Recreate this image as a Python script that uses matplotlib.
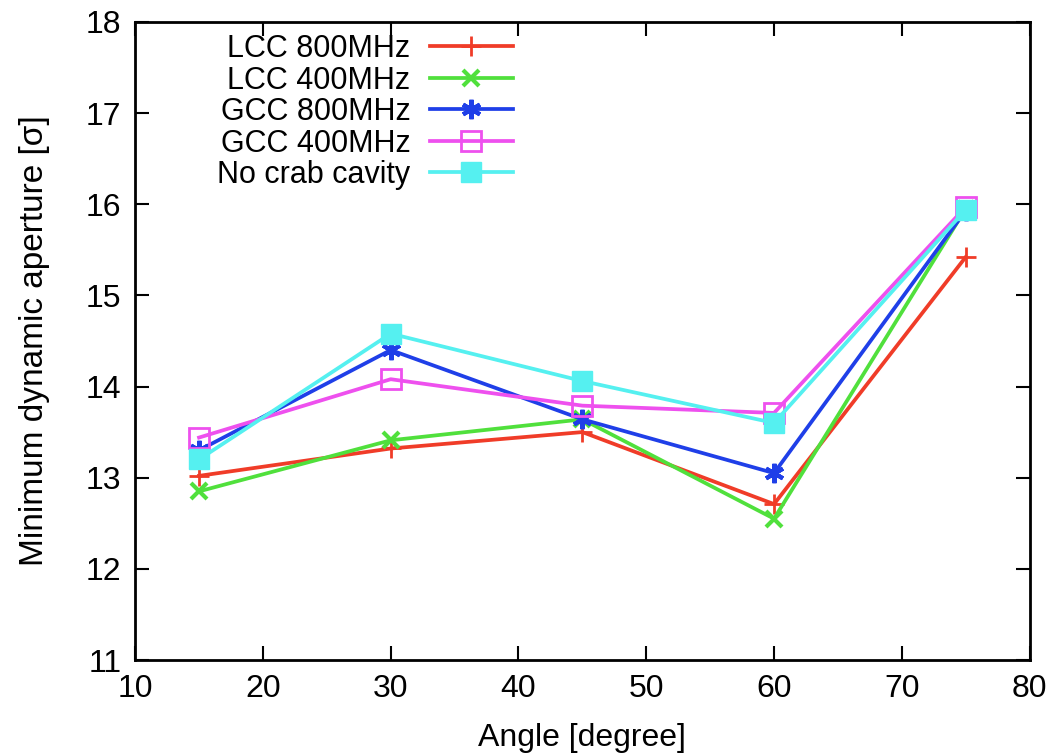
import matplotlib
matplotlib.use("Agg")
import matplotlib.pyplot as plt

plt.rcParams['font.family'] = ['Liberation Sans', 'DejaVu Sans']

angles = [15, 30, 45, 60, 75]
lcc_800 = [13.02, 13.32, 13.50, 12.71, 15.42]
lcc_400 = [12.85, 13.41, 13.64, 12.55, 15.95]
gcc_800 = [13.30, 14.40, 13.64, 13.05, 15.93]
gcc_400 = [13.44, 14.08, 13.79, 13.71, 15.97]
no_crab = [13.20, 14.58, 14.06, 13.60, 15.94]

labels = ['LCC 800MHz', 'LCC 400MHz', 'GCC 800MHz', 'GCC 400MHz', 'No crab cavity']
colors = ['#f03c28', '#50e03c', '#1f3fe8', '#ee50ee', '#55f0f0']

fig = plt.figure(figsize=(10.56, 7.53), dpi=100)
ax = fig.add_axes([0.128, 0.1235, 0.847, 0.8475])

ax.plot(angles, lcc_800, color=colors[0], lw=2.7, marker='+', ms=14, mew=2, label=labels[0])
ax.plot(angles, lcc_400, color=colors[1], lw=2.7, marker='x', ms=12, mew=3, label=labels[1])
ax.plot(angles, gcc_800, color=colors[2], lw=2.7, marker=(6, 2, 0), ms=14, mew=3, label=labels[2])
ax.plot(angles, gcc_400, color=colors[3], lw=2.7, marker='s', ms=14, mew=2,
        markerfacecolor='none', label=labels[3])
ax.plot(angles, no_crab, color=colors[4], lw=2.7, marker='s', ms=15, label=labels[4])

ax.set_xlim(10, 80)
ax.set_ylim(11, 18)
ax.set_xticks(range(10, 81, 10))
ax.set_yticks(range(11, 19))
ax.tick_params(direction='in', length=10, width=1.5, top=True, right=True,
               labelsize=23, pad=10)
for s in ax.spines.values():
    s.set_linewidth(2)

ax.set_xlabel('Angle [degree]', fontsize=23, labelpad=14)
ax.set_ylabel('Minimum dynamic aperture [σ]', fontsize=24, labelpad=26)

ax.legend(loc='upper left', bbox_to_anchor=(0.078, 1.0), frameon=False, markerfirst=False,
          fontsize=22, labelspacing=0.05, handlelength=2.7, handletextpad=0.65,
          borderaxespad=0.0)

fig.savefig('out.png', dpi=100)
